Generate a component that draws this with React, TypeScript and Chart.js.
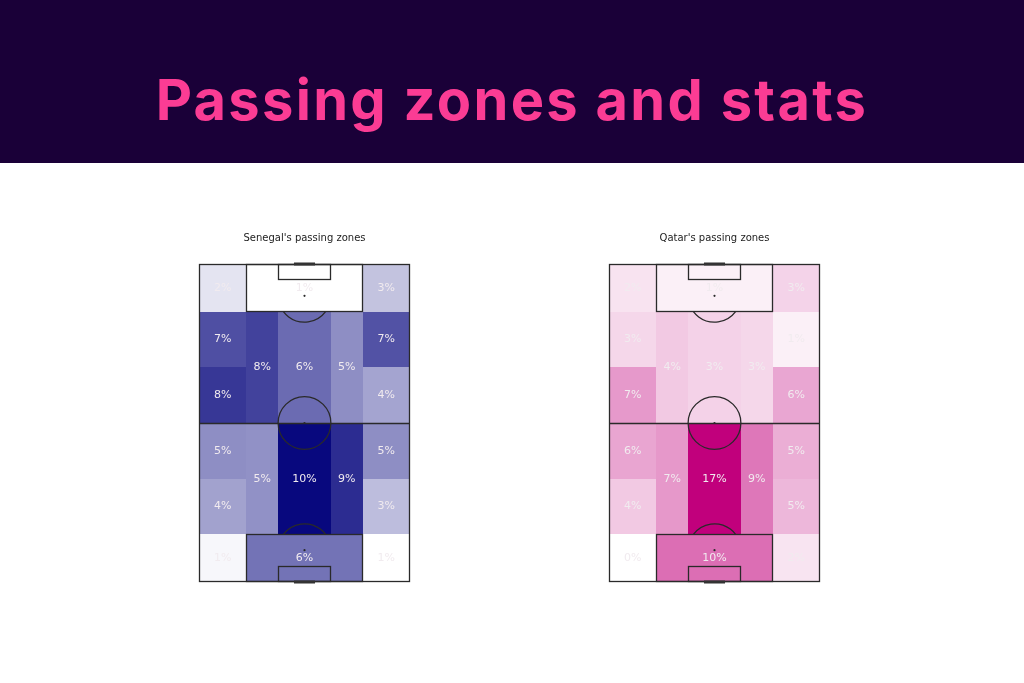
import React, { useEffect, useRef } from "react";
import { Chart, registerables } from "chart.js";

Chart.register(...registerables);

// ---- Zone bins (StatsBomb vertical pitch units: width 0-80, length 0-120) ----
const zoneX0 = [0, 18, 62, 0, 0, 18, 30, 50, 62, 62, 0, 0, 18, 30, 50, 62, 62, 0, 18, 62];
const zoneX1 = [18, 62, 80, 18, 18, 30, 50, 62, 80, 80, 18, 18, 30, 50, 62, 80, 80, 18, 62, 80];
const zoneY0 = [102, 102, 102, 81, 60, 60, 60, 60, 81, 60, 39, 18, 18, 18, 18, 39, 18, 0, 0, 0];
const zoneY1 = [120, 120, 120, 102, 81, 102, 102, 102, 102, 81, 60, 39, 60, 60, 60, 60, 39, 18, 18, 18];

// ---- Share of passes per zone (%) ----
const senegalValues = [2.0, 1.0, 3.2, 7.4, 8.3, 7.9, 6.4, 5.1, 7.3, 4.3, 5.1, 4.4, 5.0, 10.0, 8.7, 5.1, 3.4, 1.3, 6.1, 1.0];
const qatarValues = [1.9, 1.0, 2.9, 2.7, 6.8, 3.6, 3.0, 2.7, 1.0, 5.9, 6.0, 3.6, 6.9, 17.0, 9.1, 5.4, 4.8, 0.0, 9.7, 1.8];

const senegalTitle = "Senegal's passing zones";
const qatarTitle = "Qatar's passing zones";
const pageTitle = "Passing zones and stats";

const SENEGAL_MAX = [8, 8, 126];
const QATAR_MAX = [193, 0, 124];

function colorFor(v: number, min: number, max: number, c: number[]) {
  const t = max === min ? 0 : (v - min) / (max - min);
  const r = Math.round(255 * (1 - t) + c[0] * t);
  const g = Math.round(255 * (1 - t) + c[1] * t);
  const b = Math.round(255 * (1 - t) + c[2] * t);
  return `rgb(${r},${g},${b})`;
}

const LINE = "#2a2a2a";

const pitchPlugin = {
  id: "pitchZones",
  beforeDatasetsDraw(chart: any) {
    const { ctx } = chart;
    const xs = chart.scales.x;
    const ys = chart.scales.y;
    const ds = chart.data.datasets[0];
    const px = (v: number) => xs.getPixelForValue(v);
    const py = (v: number) => ys.getPixelForValue(v);
    ctx.save();
    ds.data.forEach((d: any, i: number) => {
      const l = Math.round(px(d.x0));
      const r = Math.round(px(d.x1));
      const t = Math.round(py(d.y1));
      const b = Math.round(py(d.y0));
      ctx.fillStyle = ds.backgroundColor[i];
      ctx.fillRect(l, t, r - l, b - t);
    });
    // pitch markings
    ctx.strokeStyle = LINE;
    ctx.lineWidth = 1.3;
    const rect = (x0: number, y0: number, x1: number, y1: number) => {
      const l = Math.round(px(x0)) + 0.5;
      const r = Math.round(px(x1)) - 0.5;
      const t = Math.round(py(y1)) + 0.5;
      const b = Math.round(py(y0)) - 0.5;
      ctx.strokeRect(l, t, r - l, b - t);
    };
    rect(0, 0, 80, 120);
    rect(18, 0, 62, 18);
    rect(18, 102, 62, 120);
    rect(30, 0, 50, 6);
    rect(30, 114, 50, 120);
    // halfway line
    ctx.beginPath();
    ctx.moveTo(px(0), Math.round(py(60)) + 0.5);
    ctx.lineTo(px(80), Math.round(py(60)) + 0.5);
    ctx.stroke();
    const rad = px(10) - px(0);
    // centre circle
    ctx.beginPath();
    ctx.arc(px(40), py(60), rad, 0, Math.PI * 2);
    ctx.stroke();
    // penalty arcs
    const a = Math.atan2(6, 8);
    ctx.beginPath();
    ctx.arc(px(40), py(12), rad, -Math.PI + a, -a);
    ctx.stroke();
    ctx.beginPath();
    ctx.arc(px(40), py(108), rad, a, Math.PI - a);
    ctx.stroke();
    // spots
    ctx.fillStyle = LINE;
    [12, 108, 60].forEach((s) => {
      ctx.beginPath();
      ctx.arc(px(40), py(s), 1.1, 0, Math.PI * 2);
      ctx.fill();
    });
    // goals
    ctx.lineWidth = 3;
    ctx.strokeStyle = "#333";
    ctx.beginPath();
    ctx.moveTo(px(36), py(120));
    ctx.lineTo(px(44), py(120));
    ctx.moveTo(px(36), py(0));
    ctx.lineTo(px(44), py(0));
    ctx.stroke();
    ctx.restore();
  },
  afterDatasetsDraw(chart: any) {
    const { ctx } = chart;
    const ds = chart.data.datasets[0];
    const meta = chart.getDatasetMeta(0);
    ctx.save();
    ctx.font = '11px "DejaVu Sans"';
    ctx.fillStyle = "#f1ebef";
    ctx.textAlign = "center";
    ctx.textBaseline = "middle";
    meta.data.forEach((pt: any, i: number) => {
      const v = ds.data[i].v;
      ctx.fillText(`${Math.round(v)}%`, pt.x, pt.y);
    });
    ctx.restore();
  },
};

function PitchChart({ values, title, maxColor, left }: { values: number[]; title: string; maxColor: number[]; left: number }) {
  const ref = useRef<HTMLCanvasElement | null>(null);
  useEffect(() => {
    if (!ref.current) return;
    const min = Math.min(...values);
    const max = Math.max(...values);
    const data = values.map((v, i) => ({
      x: (zoneX0[i] + zoneX1[i]) / 2,
      y: (zoneY0[i] + zoneY1[i]) / 2,
      x0: zoneX0[i],
      x1: zoneX1[i],
      y0: zoneY0[i],
      y1: zoneY1[i],
      v,
    }));
    const colors = values.map((v) => colorFor(v, min, max, maxColor));
    const chart = new Chart(ref.current, {
      type: "scatter",
      data: {
        datasets: [
          {
            data,
            backgroundColor: colors,
            pointRadius: 0,
            pointHoverRadius: 0,
          } as any,
        ],
      },
      options: {
        responsive: false,
        animation: false,
        events: [],
        layout: { padding: { left: 50, right: 50, top: 0, bottom: 18 } },
        scales: {
          x: { type: "linear", min: 0, max: 80, display: false },
          y: { type: "linear", min: 0, max: 120, display: false },
        },
        plugins: {
          legend: { display: false },
          tooltip: { enabled: false },
          title: {
            display: true,
            text: title,
            color: "#222",
            font: { family: "DejaVu Sans", size: 10, weight: "normal" },
            padding: { top: 12, bottom: 20 },
          },
        },
      },
      plugins: [pitchPlugin],
    });
    return () => chart.destroy();
  }, [values, title, maxColor]);
  return (
    <canvas
      ref={ref}
      width={311}
      height={380}
      style={{ position: "absolute", left, top: 220, width: 311, height: 380 }}
    />
  );
}

export default function App() {
  useEffect(() => {
    document.body.style.margin = "0";
  }, []);
  return (
    <div style={{ position: "absolute", left: 0, top: 0, width: 1024, height: 683, background: "#fff", overflow: "hidden" }}>
      <div style={{ position: "absolute", left: 0, top: 0, width: 1024, height: 163, background: "#1a0038" }} />
      <div
        style={{
          position: "absolute",
          left: 0,
          top: 72,
          width: 1024,
          textAlign: "center",
          fontFamily: "Inter, Roboto, sans-serif",
          fontWeight: 700,
          fontSize: 56,
          letterSpacing: "2.3px",
          lineHeight: "56px",
          color: "#fb3c94",
          whiteSpace: "nowrap",
        }}
      >
        {pageTitle}
      </div>
      <PitchChart values={senegalValues} title={senegalTitle} maxColor={SENEGAL_MAX} left={149} />
      <PitchChart values={qatarValues} title={qatarTitle} maxColor={QATAR_MAX} left={559} />
    </div>
  );
}
